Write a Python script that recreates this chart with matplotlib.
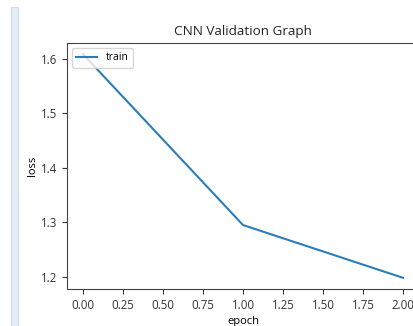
import matplotlib
matplotlib.use("Agg")
import matplotlib.pyplot as plt
from matplotlib.patches import Rectangle

# training history values
epochs = [0, 1, 2]
loss = [1.609, 1.295, 1.198]

plt.rcParams['font.family'] = ['Open Sans', 'DejaVu Sans']

fig = plt.figure(figsize=(4.14, 3.26), dpi=100)
W, H = 414.0, 326.0

# notebook cell border at the left
fig.patches.append(Rectangle((11 / W, 0), 7 / W, 1 - 7 / H, transform=fig.transFigure,
                             facecolor='#e6edf5', edgecolor='#cfdbe8', linewidth=0.8))

ax = fig.add_axes([67 / W, 37 / H, 352 / W, 246 / H])
ax.plot(epochs, loss, color='#2a7dbb', linewidth=1.5, label='train')
ax.set_title('CNN Validation Graph', fontsize=9.7, color='#222222')
ax.set_xlabel('epoch', fontsize=8, labelpad=3)
ax.set_ylabel('loss', fontsize=8, labelpad=2)
ax.set_xticks([0, 0.25, 0.5, 0.75, 1.0, 1.25, 1.5, 1.75, 2.0])
ax.set_yticks([1.2, 1.3, 1.4, 1.5, 1.6])
ax.tick_params(labelsize=8.3, colors='#333333')
for s in ax.spines.values():
    s.set_color('#444444')
ax.legend(loc='upper left', fontsize=7.5)

fig.savefig('out.png', dpi=100)
